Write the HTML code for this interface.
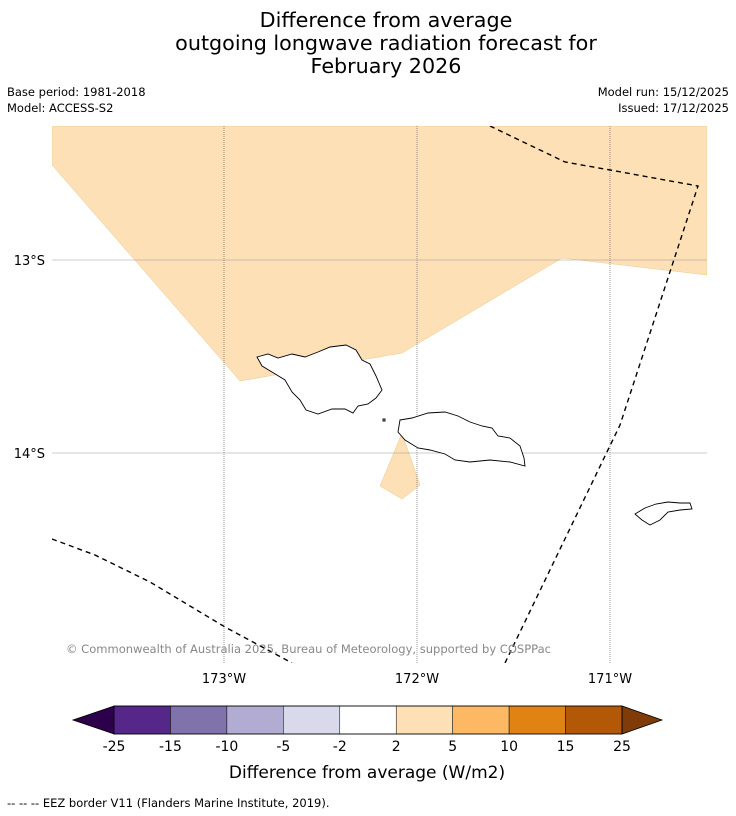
<!DOCTYPE html>
<html><head><meta charset="utf-8"><style>
body{margin:0;background:#fff;width:736px;height:816px;overflow:hidden;font-family:"Liberation Sans","DejaVu Sans",sans-serif}
svg{position:absolute;left:0;top:0}
</style></head><body>
<svg width="736" height="816" viewBox="0 0 736 816" font-family="DejaVu Sans, Liberation Sans, sans-serif">
<g font-size="20.7" text-anchor="middle" fill="#000">
<text x="386" y="27">Difference from average</text>
<text x="386" y="50">outgoing longwave radiation forecast for</text>
<text x="386" y="73">February 2026</text>
</g>
<g font-size="11.5" fill="#000">
<text x="7" y="96">Base period: 1981-2018</text>
<text x="7" y="112">Model: ACCESS-S2</text>
<text x="729" y="96" text-anchor="end">Model run: 15/12/2025</text>
<text x="729" y="112" text-anchor="end">Issued: 17/12/2025</text>
</g>
<g>
<clipPath id="mc"><rect x="52" y="126" width="655" height="537"/></clipPath>
<g clip-path="url(#mc)">
<polygon points="52,126 707,126 707,275 562,258 402,353 240,381 52,165" fill="#fee0b6" stroke="#e8c890" stroke-width="0.5"/>
<polygon points="402,433 420,485 402,499 380,486" fill="#fee0b6" stroke="#e8c890" stroke-width="0.5"/>
<g stroke="#555" stroke-width="0.6" stroke-dasharray="1,1">
<line x1="224" y1="126" x2="224" y2="663"/><line x1="417" y1="126" x2="417" y2="663"/><line x1="610" y1="126" x2="610" y2="663"/>
</g>
<g stroke="#999" stroke-width="0.6">
<line x1="52" y1="260" x2="707" y2="260"/><line x1="52" y1="453" x2="707" y2="453"/>
</g>
<g fill="none" stroke="#000" stroke-width="1.4" stroke-dasharray="5,4">
<polyline points="490,126 565,162 610,170 698,186 620,425 505,663"/>
<polyline points="52,539 95,555 150,582 225,627 292,663"/>
</g>
<g fill="#fff" stroke="#000" stroke-width="0.9">
<path d="M257,357 L268,354 L278,358 L292,354 L305,357 L318,352 L330,347 L346,345 L356,350 L362,360 L370,364 L376,376 L382,390 L376,398 L368,404 L358,406 L353,413 L345,409 L332,409 L318,414 L306,410 L300,400 L292,392 L285,380 L272,372 L262,366 Z"/>
<path d="M400,420 L412,418 L428,413 L445,412 L458,416 L470,422 L482,426 L492,428 L498,436 L510,438 L520,446 L524,458 L525,466 L510,462 L490,460 L470,462 L455,460 L445,454 L430,450 L418,448 L405,440 L398,432 Z"/>
<path d="M635,514 L645,508 L656,504 L668,502 L680,503 L690,503 L692,509 L680,510 L668,512 L660,520 L650,525 L642,520 Z"/>
<path d="M383,419 l2,0 l0,2 l-2,0 Z"/>
</g>
<text x="66" y="653" font-size="11.5" fill="#888" textLength="485" lengthAdjust="spacingAndGlyphs">© Commonwealth of Australia 2025, Bureau of Meteorology, supported by COSPPac</text>
</g>
<g font-size="13" fill="#000">
<text x="45" y="265" text-anchor="end">13°S</text><text x="45" y="458" text-anchor="end">14°S</text>
</g>
<g font-size="13" fill="#000" text-anchor="middle">
<text x="224" y="683">173°W</text><text x="417" y="683">172°W</text><text x="610" y="683">171°W</text>
</g>
</g>
<g id="cbar"></g>
<text x="367" y="778" font-size="17" text-anchor="middle">Difference from average (W/m2)</text>
<text x="7" y="807" font-size="11.5">--  --  -- EEZ border V11 (Flanders Marine Institute, 2019).</text>
</svg>
<script>
const tickLabels=["-25","-15","-10","-5","-2","2","5","10","15","25"];
const binColors=["#542788","#8073ac","#b2abd2","#d8daeb","#ffffff","#fee0b6","#fdb863","#e08214","#b35806"];
const underColor="#2d004b", overColor="#7f3b08";
const ns="http://www.w3.org/2000/svg";
const g=document.getElementById('cbar');
const x0=114,x1=622,y0=706,y1=734,n=binColors.length,w=(x1-x0)/n;
function mk(t,a){const e=document.createElementNS(ns,t);for(const k in a)e.setAttribute(k,a[k]);g.appendChild(e);return e;}
let e=mk('polygon',{points:`73,720 ${x0},${y0} ${x0},${y1}`,fill:underColor,stroke:'#000','stroke-width':0.8});


e=mk('polygon',{points:`662,720 ${x1},${y0} ${x1},${y1}`,fill:overColor,stroke:'#000','stroke-width':0.8});


binColors.forEach((c,i)=>{const r=mk('rect',{x:x0+i*w,y:y0,width:w,height:y1-y0,fill:c,stroke:'#000','stroke-width':0.5});

});
mk('rect',{x:x0,y:y0,width:x1-x0,height:y1-y0,fill:'none',stroke:'#000','stroke-width':0.8});
tickLabels.forEach((t,i)=>{const tx=mk('text',{x:x0+i*w,y:751,'font-size':14,'text-anchor':'middle'});tx.textContent=t;

});
</script>
</body></html>
